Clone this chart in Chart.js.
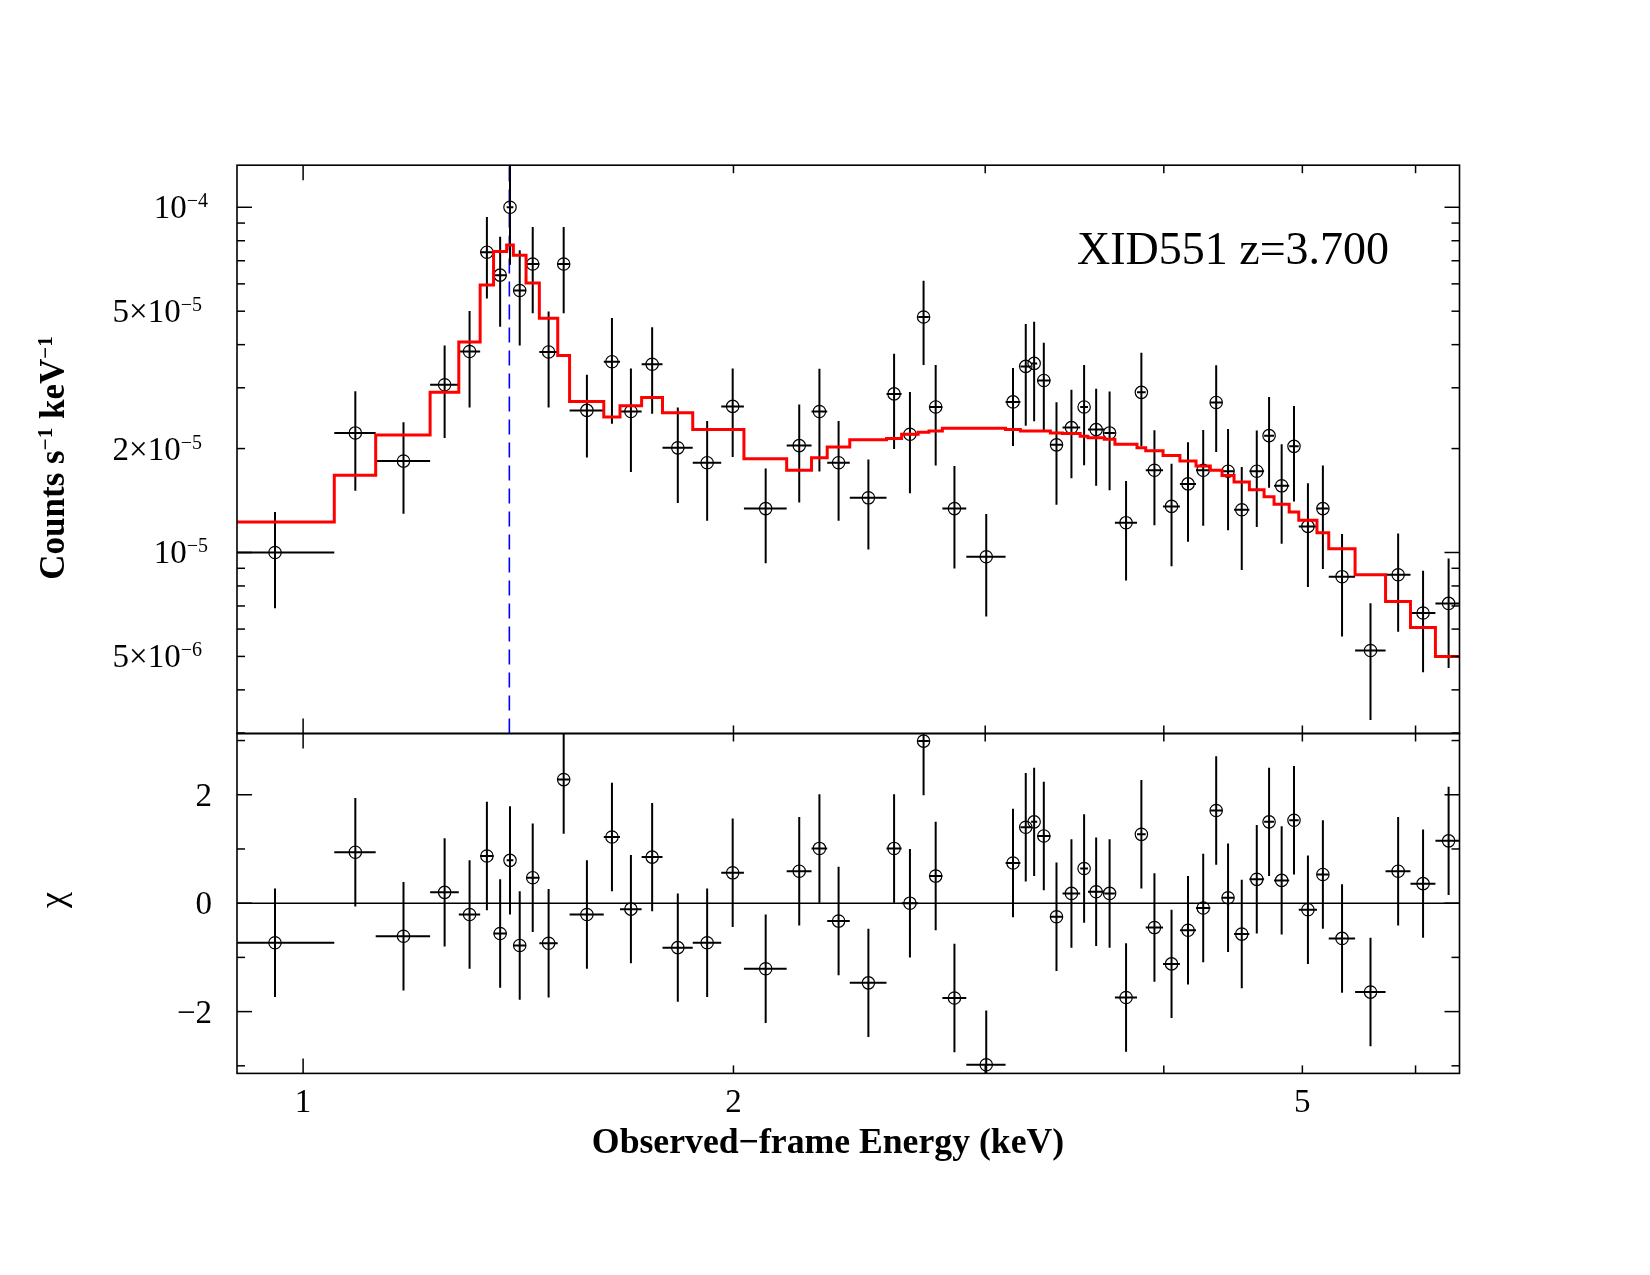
<!DOCTYPE html>
<html><head><meta charset="utf-8">
<script src="https://cdn.jsdelivr.net/npm/chart.js@4/dist/chart.umd.min.js"></script>
<style>
html,body{margin:0;padding:0;background:#fff;}
#wrap{position:relative;width:1650px;height:1275px;background:#fff;}
canvas{position:absolute;left:0;top:0;}
</style></head><body>
<div id="wrap"><canvas id="bot" width="1650" height="1275"></canvas><canvas id="top" width="1650" height="1275"></canvas></div>
<script>
// ---------------- DATA ----------------
const binEdges = [0.860, 1.0515, 1.124, 1.227, 1.285, 1.330, 1.359, 1.388, 1.403, 1.432, 1.463, 1.507, 1.536, 1.623, 1.666, 1.725, 1.784, 1.873, 1.961, 2.034, 2.179, 2.268, 2.326, 2.412, 2.559, 2.622, 2.693, 2.740, 2.800, 2.910, 3.100, 3.175, 3.230, 3.262, 3.332, 3.398, 3.496, 3.540, 3.634, 3.697, 3.831, 3.885, 3.995, 4.105, 4.213, 4.311, 4.393, 4.479, 4.591, 4.701, 4.777, 4.895, 4.971, 5.119, 5.217, 5.443, 5.717, 5.951, 6.195, 6.461];
const flux = [1.00e-5, 2.22e-5, 1.84e-5, 3.06e-5, 3.82e-5, 7.41e-5, 6.36e-5, 1.00e-4, 5.74e-5, 6.85e-5, 3.81e-5, 6.85e-5, 2.58e-5, 3.57e-5, 2.56e-5, 3.51e-5, 2.01e-5, 1.82e-5, 2.65e-5, 1.34e-5, 2.04e-5, 2.56e-5, 1.82e-5, 1.44e-5, 2.88e-5, 2.20e-5, 4.81e-5, 2.64e-5, 1.34e-5, 9.72e-6, 2.73e-5, 3.46e-5, 3.53e-5, 3.15e-5, 2.05e-5, 2.30e-5, 2.64e-5, 2.27e-5, 2.22e-5, 1.22e-5, 2.91e-5, 1.73e-5, 1.36e-5, 1.58e-5, 1.73e-5, 2.72e-5, 1.72e-5, 1.33e-5, 1.72e-5, 2.18e-5, 1.56e-5, 2.03e-5, 1.19e-5, 1.34e-5, 8.51e-6, 5.20e-6, 8.62e-6, 6.68e-6, 7.12e-6];
const fluxErr = [3.1e-6, 7.1e-6, 5.45e-6, 9.15e-6, 1.19e-5, 1.965e-5, 1.85e-5, 3.18e-5, 1.765e-5, 1.92e-5, 1.18e-5, 1.92e-5, 6.95e-6, 1.21e-5, 8.5e-6, 9.85e-6, 6.2e-6, 5.85e-6, 7.6e-6, 4.1e-6, 6.45e-6, 8.45e-6, 5.85e-6, 4.2e-6, 8.85e-6, 7.15e-6, 1.315e-5, 8.55e-6, 4.42e-6, 3.2e-6, 6.95e-6, 1.13e-5, 1.13e-5, 9.0e-6, 6.75e-6, 6.6e-6, 8.5e-6, 7.1e-6, 7.05e-6, 3.9e-6, 8.8e-6, 5.3e-6, 4.48e-6, 5.05e-6, 5.35e-6, 7.65e-6, 5.6e-6, 4.4e-6, 5.35e-6, 6.4e-6, 5.0e-6, 6.25e-6, 3.96e-6, 4.45e-6, 2.8e-6, 1.93e-6, 2.73e-6, 2.18e-6, 2.49e-6];
const model = [1.226e-5, 1.674e-5, 2.19e-5, 2.91e-5, 4.07e-5, 5.95e-5, 7.45e-5, 7.78e-5, 7.26e-5, 6.03e-5, 4.77e-5, 3.72e-5, 2.74e-5, 2.47e-5, 2.66e-5, 2.81e-5, 2.54e-5, 2.27e-5, 2.27e-5, 1.87e-5, 1.73e-5, 1.88e-5, 2.02e-5, 2.12e-5, 2.14e-5, 2.20e-5, 2.23e-5, 2.25e-5, 2.29e-5, 2.29e-5, 2.27e-5, 2.25e-5, 2.25e-5, 2.25e-5, 2.22e-5, 2.21e-5, 2.17e-5, 2.15e-5, 2.13e-5, 2.06e-5, 2.01e-5, 1.97e-5, 1.91e-5, 1.84e-5, 1.78e-5, 1.73e-5, 1.67e-5, 1.60e-5, 1.52e-5, 1.45e-5, 1.38e-5, 1.31e-5, 1.24e-5, 1.14e-5, 1.025e-5, 8.62e-6, 7.21e-6, 6.06e-6, 5.0e-6];
const chi = [-0.73, 0.94, -0.61, 0.20, -0.21, 0.87, -0.56, 0.79, -0.78, 0.47, -0.74, 2.28, -0.21, 1.22, -0.11, 0.85, -0.82, -0.73, 0.56, -1.21, 0.59, 1.01, -0.33, -1.47, 1.01, 0.00, 2.99, 0.50, -1.75, -2.98, 0.74, 1.40, 1.50, 1.24, -0.25, 0.18, 0.64, 0.21, 0.18, -1.74, 1.27, -0.45, -1.12, -0.50, -0.09, 1.71, 0.10, -0.57, 0.44, 1.50, 0.42, 1.53, -0.12, 0.53, -0.65, -1.64, 0.59, 0.36, 1.15];
const lineEnergy = 1.394;
const xRange = [0.899, 6.44];
const fluxRange = [2.99e-6, 1.324e-4];
const chiRange = [-3.14, 3.13];
const xMajorTicks = [1];
const xMinorTicks = [2, 3, 4, 5, 6];
const xTickLabels = [[1, '1'], [2, '2'], [5, '5']];
const fluxMajorTicks = [1e-5, 1e-4];
const fluxMinorTicks = [3e-6, 4e-6, 5e-6, 6e-6, 7e-6, 8e-6, 9e-6, 2e-5, 3e-5, 4e-5, 5e-5, 6e-5, 7e-5, 8e-5, 9e-5];
const fluxTickLabels = [[1e-4, '', '−4'], [5e-5, '5×', '−5'], [2e-5, '2×', '−5'], [1e-5, '', '−5'], [5e-6, '5×', '−6']];
const chiMajorTicks = [-2, 0, 2];
const chiMinorTicks = [-3, -1, 1, 3];
const chiTickLabels = [[2, '2'], [0, '0'], [-2, '−2']];
const sourceLabel = 'XID551 z=3.700';
const xTitle = 'Observed−frame Energy (keV)';
const yTitleParts = [['Counts s', false], ['−1', true], [' keV', false], ['−1', true]];
const chiTitle = 'χ';

// ---------------- helpers ----------------
const SERIF = '"Liberation Serif", "Times New Roman", serif';
const centers = flux.map((_, i) => (binEdges[i] + binEdges[i + 1]) / 2);

function seg(ctx, x1, y1, x2, y2) { ctx.beginPath(); ctx.moveTo(x1, y1); ctx.lineTo(x2, y2); ctx.stroke(); }
function partsText(ctx, parts, x, y, align, font, supFont, rise) {
  let w = 0;
  const ws = parts.map(p => { ctx.font = p[1] ? supFont : font; const m = ctx.measureText(p[0]).width; w += m; return m; });
  let cx = align === 'right' ? x - w : (align === 'center' ? x - w / 2 : x);
  ctx.textAlign = 'left'; ctx.textBaseline = 'alphabetic';
  parts.forEach((p, i) => { ctx.font = p[1] ? supFont : font; ctx.fillText(p[0], cx, p[1] ? y - rise : y); cx += ws[i]; });
}
function xErrData(vals) {
  const out = [];
  vals.forEach((v, i) => { out.push({x: binEdges[i], y: v}, {x: binEdges[i + 1], y: v}, {x: centers[i], y: null}); });
  return out;
}
function yErrData(lo, hi) {
  const out = [];
  centers.forEach((c, i) => { out.push({x: c, y: lo[i]}, {x: c, y: hi[i]}, {x: c, y: null}); });
  return out;
}
function drawFrame(chart, yMajor, yMinor) {
  const ctx = chart.ctx, a = chart.chartArea, xs = chart.scales.x, ys = chart.scales.y;
  ctx.save();
  ctx.strokeStyle = '#000'; ctx.lineWidth = 1.6; ctx.lineCap = 'butt';
  ctx.strokeRect(a.left, a.top, a.right - a.left, a.bottom - a.top);
  ctx.lineWidth = 1.5;
  const xt = xMajorTicks.map(v => [v, 15]).concat(xMinorTicks.map(v => [v, 8]));
  xt.forEach(([v, L]) => { const p = xs.getPixelForValue(v); seg(ctx, p, a.top, p, a.top + L); seg(ctx, p, a.bottom, p, a.bottom - L); });
  const yt = yMajor.map(v => [v, 15]).concat(yMinor.map(v => [v, 8]));
  yt.forEach(([v, L]) => { const p = ys.getPixelForValue(v); if (p < a.top - 0.5 || p > a.bottom + 0.5) return; seg(ctx, a.left, p, a.left + L, p); seg(ctx, a.right, p, a.right - L, p); });
  ctx.restore();
}

const commonOpts = (padTop, padBottom, yScale) => ({
  responsive: false, animation: false, devicePixelRatio: 1, events: [],
  layout: {padding: {left: 237, right: 1650 - 1459.5, top: padTop, bottom: padBottom}},
  plugins: {legend: {display: false}, tooltip: {enabled: false}},
  scales: {
    x: {type: 'logarithmic', min: xRange[0], max: xRange[1], display: false},
    y: yScale
  }
});

// ---------------- top panel ----------------
const topPlugin = {
  id: 'topFrame',
  afterDraw(chart) {
    drawFrame(chart, fluxMajorTicks, fluxMinorTicks);
    const ctx = chart.ctx, a = chart.chartArea, ys = chart.scales.y;
    ctx.save(); ctx.fillStyle = '#000';
    fluxTickLabels.forEach(([v, m, e]) => {
      const p = ys.getPixelForValue(v);
      const right = m ? a.left - 35 : a.left - 29;
      partsText(ctx, [[m + '10', false], [e, true]], right, p + 11, 'right', '33px ' + SERIF, '20px ' + SERIF, 11);
    });
    ctx.font = '46px ' + SERIF; ctx.textAlign = 'left'; ctx.textBaseline = 'alphabetic';
    ctx.fillText(sourceLabel, 1077, 264);
    ctx.translate(64, 458); ctx.rotate(-Math.PI / 2);
    partsText(ctx, yTitleParts, 0, 0, 'center', 'bold 35px ' + SERIF, 'bold 21px ' + SERIF, 12);
    ctx.restore();
  }
};

new Chart(document.getElementById('top'), {
  type: 'line',
  data: {datasets: [
    {label: 'model', data: binEdges.map((e, i) => ({x: e, y: model[Math.min(i, model.length - 1)]})),
     stepped: 'before', borderColor: '#ff0000', borderWidth: 3, pointRadius: 0, fill: false, order: 0},
    {label: 'xerr', data: xErrData(flux), borderColor: '#000', borderWidth: 2, pointRadius: 0, spanGaps: false, order: 1},
    {label: 'yerr', data: yErrData(flux.map((f, i) => f - fluxErr[i]), flux.map((f, i) => f + fluxErr[i])),
     borderColor: '#000', borderWidth: 2, pointRadius: 0, spanGaps: false, order: 2},
    {label: 'data', data: centers.map((c, i) => ({x: c, y: flux[i]})), showLine: false,
     pointStyle: 'circle', pointRadius: 6.2, pointBorderWidth: 1.2, pointBorderColor: '#000', pointBackgroundColor: 'rgba(0,0,0,0)', order: 3},
    {label: 'line', data: [{x: lineEnergy, y: fluxRange[0]}, {x: lineEnergy, y: fluxRange[1]}],
     borderColor: '#0000ff', borderWidth: 1.6, borderDash: [15, 8], pointRadius: 0, order: 4}
  ]},
  options: commonOpts(165.2, 1275 - 733.5, {type: 'logarithmic', min: fluxRange[0], max: fluxRange[1], display: false}),
  plugins: [topPlugin]
});

// ---------------- bottom panel ----------------
const botPlugin = {
  id: 'botFrame',
  afterDraw(chart) {
    drawFrame(chart, chiMajorTicks, chiMinorTicks);
    const ctx = chart.ctx, a = chart.chartArea, xs = chart.scales.x, ys = chart.scales.y;
    ctx.save(); ctx.fillStyle = '#000';
    ctx.font = '33px ' + SERIF; ctx.textBaseline = 'alphabetic';
    ctx.textAlign = 'right';
    chiTickLabels.forEach(([v, t]) => ctx.fillText(t, a.left - 25, ys.getPixelForValue(v) + 11));
    ctx.textAlign = 'center';
    xTickLabels.forEach(([v, t]) => ctx.fillText(t, xs.getPixelForValue(v), a.bottom + 38.5));
    ctx.font = 'bold 35.7px ' + SERIF;
    ctx.fillText(xTitle, 828, 1153);
    ctx.translate(64, 900); ctx.rotate(-Math.PI / 2);
    ctx.font = '36px ' + SERIF; ctx.textAlign = 'center';
    ctx.fillText(chiTitle, 0, 0);
    ctx.restore();
  }
};

new Chart(document.getElementById('bot'), {
  type: 'line',
  data: {datasets: [
    {label: 'zero', data: [{x: xRange[0], y: 0}, {x: xRange[1], y: 0}], borderColor: '#000', borderWidth: 1.5, pointRadius: 0, order: 0},
    {label: 'xerr', data: xErrData(chi), borderColor: '#000', borderWidth: 2, pointRadius: 0, spanGaps: false, order: 1},
    {label: 'yerr', data: yErrData(chi.map(c => c - 1), chi.map(c => c + 1)), borderColor: '#000', borderWidth: 2, pointRadius: 0, spanGaps: false, order: 2},
    {label: 'chi', data: centers.map((c, i) => ({x: c, y: chi[i]})), showLine: false,
     pointStyle: 'circle', pointRadius: 6.2, pointBorderWidth: 1.2, pointBorderColor: '#000', pointBackgroundColor: 'rgba(0,0,0,0)', order: 3}
  ]},
  options: commonOpts(733.5, 1275 - 1073.4, {type: 'linear', min: chiRange[0], max: chiRange[1], display: false}),
  plugins: [botPlugin]
});
</script>
</body></html>
